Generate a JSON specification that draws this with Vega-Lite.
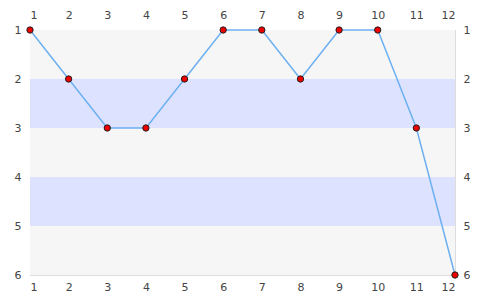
{
  "$schema": "https://vega.github.io/schema/vega-lite/v6.json",
  "width": 425,
  "height": 245,
  "autosize": "none",
  "padding": {"left": 30, "top": 30, "right": 30, "bottom": 25},
  "config": {"view": {"stroke": "#dddddd"}, "font": "DejaVu Sans"},
  "datasets": {
    "bands": [
      {"y1": 1, "y2": 2, "c": "g"},
      {"y1": 2, "y2": 3, "c": "b"},
      {"y1": 3, "y2": 4, "c": "g"},
      {"y1": 4, "y2": 5, "c": "b"},
      {"y1": 5, "y2": 6, "c": "g"}
    ],
    "pts": [
      {"x": 1, "y": 1}, {"x": 2, "y": 2}, {"x": 3, "y": 3}, {"x": 4, "y": 3},
      {"x": 5, "y": 2}, {"x": 6, "y": 1}, {"x": 7, "y": 1}, {"x": 8, "y": 2},
      {"x": 9, "y": 1}, {"x": 10, "y": 1}, {"x": 11, "y": 3}, {"x": 12, "y": 6}
    ]
  },
  "layer": [
    {
      "data": {"name": "bands"},
      "mark": {"type": "rect", "x": 0, "x2": {"expr": "width"}},
      "encoding": {
        "y": {"field": "y1", "type": "quantitative", "scale": {"domain": [1, 6], "reverse": true, "nice": false, "zero": false},
              "axis": {"orient": "left", "title": null, "values": [1,2,3,4,5,6], "tickSize": 0, "domain": false, "grid": true, "gridColor": "#dddddd", "labelPadding": 9, "labelFontSize": 11, "labelColor": "#444444", "labelFontWeight": "normal"}},
        "y2": {"field": "y2"},
        "color": {"field": "c", "type": "nominal", "scale": {"domain": ["g", "b"], "range": ["#f6f6f6", "#dde3ff"]}, "legend": null}
      }
    },
    {
      "data": {"name": "bands"},
      "mark": {"type": "rule", "opacity": 0},
      "encoding": {
        "y": {"field": "y1", "type": "quantitative",
              "axis": {"orient": "right", "title": null, "values": [1,2,3,4,5,6], "tickSize": 0, "domain": false, "grid": false, "labelPadding": 8, "labelFontSize": 11, "labelColor": "#444444", "labelFontWeight": "normal"}}
      }
    },
    {
      "data": {"name": "pts"},
      "mark": {"type": "line", "color": "#6db0f2", "strokeWidth": 1.5},
      "encoding": {
        "x": {"field": "x", "type": "quantitative", "scale": {"domain": [1, 12], "nice": false, "zero": false},
              "axis": {"orient": "top", "title": null, "values": [1,2,3,4,5,6,7,8,9,10,11,12], "tickSize": 0, "domain": false, "grid": false, "labelPadding": 10, "labelFontSize": 11, "labelColor": "#444444"}},
        "y": {"field": "y", "type": "quantitative", "axis": null}
      }
    },
    {
      "data": {"name": "pts"},
      "mark": {"type": "point", "filled": true, "fill": "#ee0000", "stroke": "#222222", "strokeWidth": 1, "size": 40, "opacity": 1},
      "encoding": {
        "x": {"field": "x", "type": "quantitative",
              "axis": {"orient": "bottom", "title": null, "values": [1,2,3,4,5,6,7,8,9,10,11,12], "tickSize": 0, "domain": false, "grid": false, "labelPadding": 6, "labelFontSize": 11, "labelColor": "#444444"}},
        "y": {"field": "y", "type": "quantitative", "axis": null}
      }
    }
  ]
}
